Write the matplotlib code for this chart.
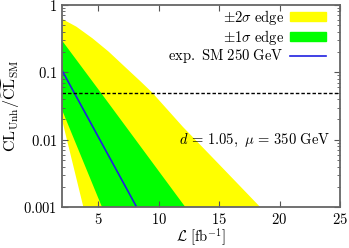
import numpy as np
import matplotlib
matplotlib.use("Agg")
import matplotlib.pyplot as plt
from matplotlib.patches import Patch
from matplotlib.lines import Line2D

plt.rcParams['mathtext.fontset'] = 'cm'
plt.rcParams['font.family'] = 'serif'
plt.rcParams['font.serif'] = ['DejaVu Serif']

# band edges (L in fb^-1, CL ratio)
y2_up_L = [2, 3.18, 4.51, 5.85, 7.19, 8.52, 9.46, 12, 15, 18.4]
y2_up_v = [0.62, 0.476, 0.32, 0.203, 0.121, 0.0726, 0.05, 0.0155, 0.0043, 0.001]
y2_lo_L = [2, 3.76]
y2_lo_v = [0.0195, 0.001]

g1_up_L = [2, 5.2, 12.2]
g1_up_v = [0.295, 0.05, 0.001]
g1_lo_L = [2, 5.3]
g1_lo_v = [0.0275, 0.001]

sm_L = [2, 8.17]
sm_v = [0.106, 0.001]

cl_limit = 0.05

fig = plt.figure(figsize=(3.49, 2.48), dpi=100)
ax = fig.add_axes([0.178, 0.165, 0.796, 0.815])

ax.fill(np.r_[y2_up_L, y2_lo_L[::-1]], np.r_[y2_up_v, y2_lo_v[::-1]],
        color='#ffff00', lw=0)
ax.fill(np.r_[g1_up_L, g1_lo_L[::-1]], np.r_[g1_up_v, g1_lo_v[::-1]],
        color='#00ff00', lw=0)
ax.plot(sm_L, sm_v, color='#2020e0', lw=1.2)
ax.axhline(cl_limit, color='black', lw=1.0, ls=(0, (2.5, 1.5)))

ax.set_yscale('log')
ax.set_xlim(2, 25)
ax.set_ylim(0.001, 1)
ax.set_xticks([5, 10, 15, 20, 25])
ax.set_xticklabels(['$5$', '$10$', '$15$', '$20$', '$25$'])
ax.set_yticks([0.001, 0.01, 0.1, 1])
ax.set_yticklabels(['$0.001$', '$0.01$', '$0.1$', '$1$'])
ax.tick_params(which='both', direction='in', top=True, right=True,
               labelsize=10.5, color='#555555')
ax.tick_params(which='major', length=4)
ax.tick_params(which='minor', length=2)
for s in ax.spines.values():
    s.set_color('#666666')
    s.set_linewidth(1.3)

ax.set_xlabel(r'$\mathcal{L}\ [\mathrm{fb}^{-1}]$', fontsize=10.5, labelpad=0)
ax.set_ylabel(r'$\mathrm{CL}_{\mathrm{Unh}}/\widetilde{\mathrm{CL}}_{\mathrm{SM}}$',
              fontsize=11.5, labelpad=1)

ax.text(0.964, 0.33, r'$d\, =\, 1.05,\ \mu\, =\, 350\ \mathrm{GeV}$',
        transform=ax.transAxes, ha='right', va='center', fontsize=10.5)

handles = [Patch(color='#ffff00'), Patch(color='#00ff00'),
           Line2D([], [], color='#2020e0', lw=1.2)]
labels = [r'$\pm 2\sigma\ \mathrm{edge}$', r'$\pm 1\sigma\ \mathrm{edge}$',
          r'$\mathrm{exp.\ SM\ 250\ GeV}$']
ax.legend(handles, labels, loc='upper right', bbox_to_anchor=(0.95, 0.985),
          frameon=False, markerfirst=False, fontsize=10.5, handlelength=2.5,
          handleheight=0.55, labelspacing=0.05, handletextpad=0.4,
          borderaxespad=0, borderpad=0)

fig.savefig('out.png', dpi=100)
